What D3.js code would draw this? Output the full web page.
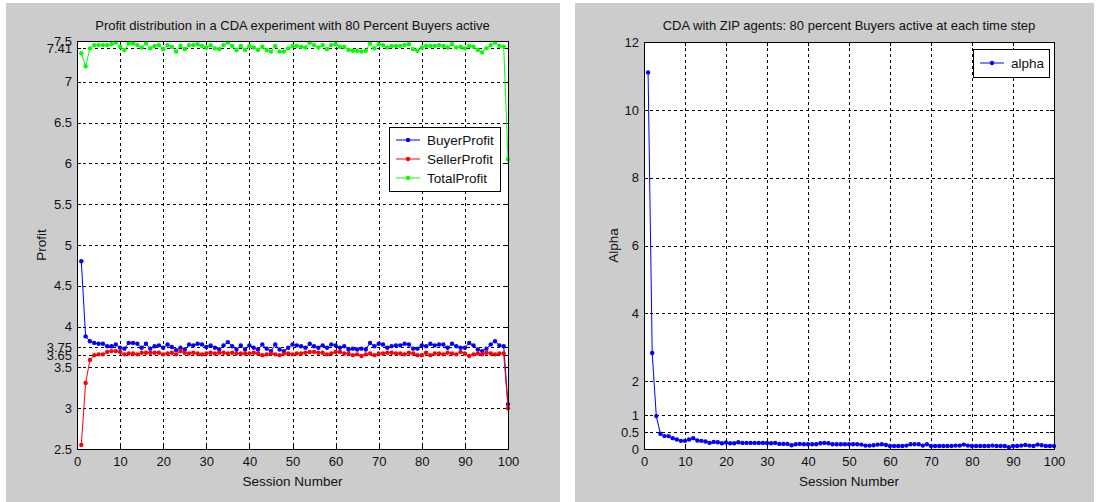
<!DOCTYPE html>
<html><head><meta charset="utf-8">
<script src="https://cdn.jsdelivr.net/npm/d3@7"></script>
<style>
html,body{margin:0;padding:0;background:#fff;}
text{font-family:"Liberation Sans Narrow","Arial Narrow","Liberation Sans",Arial,sans-serif;fill:#111;}
</style></head>
<body><svg id="c" width="1099" height="502"></svg>
<script>
const sessions = d3.range(1, 101);
const buyerProfit = [4.80,3.88,3.82,3.80,3.79,3.79,3.76,3.76,3.78,3.74,3.73,3.80,3.80,3.79,3.74,3.79,3.73,3.76,3.77,3.74,
3.78,3.75,3.71,3.74,3.72,3.78,3.77,3.79,3.78,3.75,3.77,3.74,3.72,3.77,3.81,3.76,3.72,3.77,3.72,3.77,
3.74,3.72,3.78,3.73,3.70,3.78,3.72,3.70,3.74,3.78,3.77,3.76,3.74,3.79,3.76,3.74,3.77,3.74,3.78,3.77,
3.74,3.76,3.72,3.73,3.72,3.73,3.72,3.80,3.76,3.79,3.78,3.74,3.76,3.77,3.77,3.79,3.78,3.73,3.73,3.77,
3.76,3.79,3.77,3.78,3.78,3.74,3.79,3.76,3.74,3.74,3.80,3.77,3.72,3.70,3.73,3.78,3.82,3.77,3.76,3.05];
const sellerProfit = [2.55,3.31,3.59,3.65,3.66,3.66,3.69,3.70,3.70,3.69,3.66,3.67,3.67,3.66,3.68,3.68,3.68,3.68,3.68,3.66,
3.67,3.68,3.66,3.70,3.68,3.67,3.68,3.67,3.66,3.67,3.68,3.67,3.68,3.68,3.67,3.68,3.67,3.67,3.67,3.67,
3.68,3.67,3.65,3.66,3.67,3.66,3.65,3.67,3.67,3.66,3.67,3.67,3.68,3.69,3.69,3.68,3.68,3.66,3.67,3.69,
3.69,3.67,3.67,3.65,3.66,3.64,3.66,3.67,3.65,3.67,3.67,3.68,3.68,3.67,3.67,3.66,3.68,3.67,3.65,3.65,
3.68,3.65,3.67,3.67,3.66,3.68,3.67,3.66,3.69,3.67,3.64,3.66,3.67,3.66,3.68,3.67,3.66,3.67,3.67,3.00];
const totalProfit = [7.35,7.19,7.41,7.45,7.45,7.45,7.45,7.46,7.48,7.43,7.39,7.47,7.47,7.45,7.42,7.47,7.41,7.44,7.45,7.40,
7.45,7.43,7.37,7.44,7.40,7.45,7.45,7.46,7.44,7.42,7.45,7.41,7.40,7.45,7.48,7.44,7.39,7.44,7.39,7.44,
7.42,7.39,7.43,7.39,7.37,7.44,7.37,7.37,7.41,7.44,7.44,7.43,7.42,7.48,7.45,7.42,7.45,7.40,7.45,7.46,
7.43,7.43,7.39,7.38,7.38,7.37,7.38,7.47,7.41,7.46,7.45,7.42,7.44,7.44,7.44,7.45,7.46,7.40,7.38,7.42,
7.44,7.44,7.44,7.45,7.44,7.42,7.46,7.42,7.43,7.41,7.44,7.43,7.39,7.36,7.41,7.45,7.48,7.44,7.43,6.05];
const alpha = [11.1,2.83,0.97,0.45,0.38,0.38,0.32,0.28,0.24,0.24,0.28,0.32,0.25,0.24,0.22,0.18,0.21,0.20,0.17,0.19,
0.17,0.17,0.20,0.18,0.18,0.18,0.18,0.18,0.18,0.18,0.17,0.18,0.15,0.15,0.15,0.11,0.14,0.15,0.14,0.14,
0.14,0.14,0.17,0.18,0.17,0.14,0.14,0.14,0.14,0.14,0.14,0.14,0.13,0.10,0.10,0.11,0.13,0.14,0.12,0.09,
0.09,0.09,0.09,0.10,0.14,0.14,0.14,0.10,0.14,0.09,0.09,0.09,0.09,0.09,0.09,0.10,0.10,0.13,0.10,0.09,
0.09,0.09,0.09,0.09,0.10,0.09,0.09,0.09,0.05,0.09,0.09,0.10,0.12,0.10,0.09,0.13,0.11,0.09,0.09,0.09];

const xTicks = [0,10,20,30,40,50,60,70,80,90,100];
const leftYTicks = [2.5,3,3.5,3.65,3.75,4,4.5,5,5.5,6,6.5,7,7.41,7.5];
const rightYTicks = [0,0.5,1,2,4,6,8,10,12];
const leftTitle = "Profit distribution in a CDA experiment with 80 Percent Buyers active";
const rightTitle = "CDA with ZIP agents: 80 percent Buyers active at each time step";
const xLabel = "Session Number";
const leftSeries = [
  {name:"BuyerProfit", values:buyerProfit, color:"#0000ff"},
  {name:"SellerProfit", values:sellerProfit, color:"#ff0000"},
  {name:"TotalProfit", values:totalProfit, color:"#00ff00"}
];
const rightSeries = [{name:"alpha", values:alpha, color:"#0000ff"}];

const svg = d3.select("#c");
svg.append("rect").attr("x",6).attr("y",3).attr("width",554).attr("height",499).attr("fill","#cccccc");
svg.append("rect").attr("x",575).attr("y",3).attr("width",519).attr("height",499).attr("fill","#cccccc");

function panel(cfg){
  const g = svg.append("g");
  const x = d3.scaleLinear().domain([0,100]).range([cfg.x0,cfg.x1]);
  const y = d3.scaleLinear().domain(cfg.ydom).range([cfg.y1,cfg.y0]);
  g.append("rect").attr("x",cfg.x0).attr("y",cfg.y0).attr("width",cfg.x1-cfg.x0).attr("height",cfg.y1-cfg.y0).attr("fill","#fff");
  g.selectAll(".gx").data(xTicks.filter(t=>t>0&&t<100)).enter().append("line")
    .attr("x1",d=>Math.round(x(d))+0.5).attr("x2",d=>Math.round(x(d))+0.5).attr("y1",cfg.y0).attr("y2",cfg.y1)
    .attr("stroke","#000").attr("stroke-dasharray","3,3").attr("stroke-width",1);
  g.selectAll(".gy").data(cfg.yticks.filter(t=>t>cfg.ydom[0]&&t<cfg.ydom[1])).enter().append("line")
    .attr("y1",d=>Math.round(y(d))+0.5).attr("y2",d=>Math.round(y(d))+0.5).attr("x1",cfg.x0).attr("x2",cfg.x1)
    .attr("stroke","#000").attr("stroke-dasharray","3,3").attr("stroke-width",1);
  const ax = d3.axisBottom(x).tickValues(xTicks).tickSize(0).tickPadding(8).tickFormat(d3.format("d"));
  const axg = g.append("g").attr("transform",`translate(0,${cfg.y1})`).call(ax);
  axg.select(".domain").remove();
  axg.selectAll("text").attr("font-size",13).attr("font-family",null);
  const ay = d3.axisLeft(y).tickValues(cfg.yticks).tickSize(0).tickPadding(5).tickFormat(d=>String(d));
  const ayg = g.append("g").attr("transform",`translate(${cfg.x0},0)`).call(ay);
  ayg.select(".domain").remove();
  ayg.selectAll("text").attr("font-size",13).attr("font-family",null);
  xTicks.forEach(t=>{
    const xx=Math.round(x(t))+0.5;
    g.append("line").attr("x1",xx).attr("x2",xx).attr("y1",cfg.y1).attr("y2",cfg.y1-4).attr("stroke","#000");
    g.append("line").attr("x1",xx).attr("x2",xx).attr("y1",cfg.y0).attr("y2",cfg.y0+4).attr("stroke","#000");
  });
  cfg.yticks.forEach(t=>{
    const yy=Math.round(y(t))+0.5;
    g.append("line").attr("y1",yy).attr("y2",yy).attr("x1",cfg.x0).attr("x2",cfg.x0+4).attr("stroke","#000");
    g.append("line").attr("y1",yy).attr("y2",yy).attr("x1",cfg.x1).attr("x2",cfg.x1-4).attr("stroke","#000");
  });
  const line = d3.line().x((d,i)=>x(sessions[i])).y(d=>y(d));
  cfg.series.forEach(s=>{
    g.append("path").datum(s.values).attr("d",line).attr("fill","none").attr("stroke",s.color).attr("stroke-width",1);
    g.selectAll(null).data(s.values).enter().append("circle")
      .attr("cx",(d,i)=>x(sessions[i])).attr("cy",d=>y(d)).attr("r",2.2).attr("fill",s.color);
  });
  g.append("rect").attr("x",cfg.x0+0.5).attr("y",cfg.y0+0.5).attr("width",cfg.x1-cfg.x0).attr("height",cfg.y1-cfg.y0)
    .attr("fill","none").attr("stroke","#000").attr("stroke-width",1);
  g.append("text").attr("x",(cfg.x0+cfg.x1)/2).attr("y",30).attr("text-anchor","middle").attr("font-size",13).text(cfg.title);
  g.append("text").attr("x",(cfg.x0+cfg.x1)/2).attr("y",486).attr("text-anchor","middle").attr("font-size",13.5).text(xLabel);
  g.append("text").attr("transform",`translate(${cfg.ylx},${(cfg.y0+cfg.y1)/2}) rotate(-90)`).attr("text-anchor","middle")
    .attr("font-size",13.5).text(cfg.ylabel);
  const L = cfg.legend;
  g.append("rect").attr("x",L.x+0.5).attr("y",L.y+0.5).attr("width",L.w).attr("height",L.h).attr("fill","#fff").attr("stroke","#000");
  cfg.series.forEach((s,i)=>{
    const ly = L.y + L.first + i*L.step;
    g.append("line").attr("x1",L.x+7).attr("x2",L.x+31).attr("y1",ly).attr("y2",ly).attr("stroke",s.color);
    g.append("circle").attr("cx",L.x+19).attr("cy",ly).attr("r",2.2).attr("fill",s.color);
    g.append("text").attr("x",L.x+38).attr("y",ly).attr("dy","0.35em").attr("font-size",13.5).text(s.name);
  });
}

panel({x0:77,x1:508,y0:41,y1:449,ydom:[2.5,7.5],yticks:leftYTicks,series:leftSeries,title:leftTitle,ylabel:"Profit",ylx:46,
  legend:{x:389,y:127,w:111,h:64,first:13,step:19}});
panel({x0:644,x1:1054,y0:42,y1:449,ydom:[0,12],yticks:rightYTicks,series:rightSeries,title:rightTitle,ylabel:"Alpha",ylx:618,
  legend:{x:973,y:49,w:76,h:28,first:14,step:19}});
</script></body></html>
